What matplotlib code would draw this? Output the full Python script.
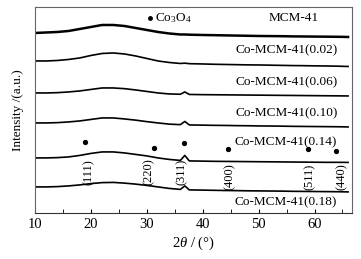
import matplotlib
matplotlib.use("Agg")
import matplotlib.pyplot as plt
from matplotlib.ticker import MultipleLocator

plt.rcParams['font.family'] = ['Liberation Serif', 'DejaVu Serif']
plt.rcParams['mathtext.fontset'] = 'custom'
plt.rcParams['mathtext.rm'] = 'Liberation Serif'
plt.rcParams['mathtext.it'] = 'Liberation Serif:italic'

# 2theta sample points
two_theta = [10, 12, 14, 16, 18, 20, 22, 24, 26, 28, 30, 32, 34, 36, 36.8, 37.6,
             40, 42, 44, 46, 48, 50, 52, 54, 56, 58, 60, 62, 64, 66]

# intensities (offset, arbitrary units) for each sample
mcm41 = [180, 180.5, 181, 182, 184, 186, 188, 188, 187, 185, 183, 181, 179.5, 178.5, 178.5, 178.3,
         178, 177.8, 177.6, 177.4, 177.2, 177, 176.9, 176.8, 176.6, 176.5, 176.4, 176.3, 176.2, 176]
co_002 = [152, 152, 152.5, 153.5, 155, 157.5, 159.5, 160, 159, 157, 154.5, 152, 150.5, 149.5, 149.8, 149.3,
          149, 148.7, 148.5, 148.3, 148.1, 148, 147.8, 147.6, 147.4, 147.3, 147.1, 147, 146.8, 146.5]
co_006 = [120, 120, 120.3, 121, 122, 123.5, 125, 125, 124.3, 123, 121.5, 120, 119, 118.7, 121, 118.5,
          118.3, 118.2, 118.1, 118, 117.9, 117.8, 117.7, 117.6, 117.5, 117.4, 117.3, 117.2, 117.1, 117]
co_010 = [90, 90, 90.3, 91, 92, 93.5, 95, 95, 94, 92.8, 91.3, 90, 88.8, 88.3, 91.5, 88,
          87.8, 87.6, 87.5, 87.3, 87.2, 87, 86.9, 86.8, 86.6, 86.5, 86.4, 86.3, 86.2, 86]
co_014 = [55, 55, 55.3, 56, 57.5, 59.5, 61, 61, 60, 58.5, 57, 55, 53.5, 52.5, 57.5, 52,
          51.8, 51.6, 51.5, 51.4, 51.3, 51.2, 51.1, 51, 50.9, 50.8, 50.7, 50.6, 50.6, 50.5]
co_018 = [26, 26, 26.3, 27, 28, 29.3, 30.3, 30.5, 29.8, 28.8, 27.5, 26, 24.5, 23.5, 27, 23,
          22.8, 22.6, 22.4, 22.3, 22.1, 22, 21.9, 21.8, 21.6, 21.5, 21.4, 21.3, 21.2, 21]

series = [mcm41, co_002, co_006, co_010, co_014, co_018]
names = ['MCM-41', 'Co-MCM-41(0.02)', 'Co-MCM-41(0.06)', 'Co-MCM-41(0.10)',
         'Co-MCM-41(0.14)', 'Co-MCM-41(0.18)']
name_x = [56.2, 55, 55, 55, 54.8, 54.8]
name_y = [195, 163, 131, 100, 71, 11]

# Co3O4 reflections
hkl = ['(111)', '(220)', '(311)', '(400)', '(511)', '(440)']
hkl_pos = [19.6, 30.4, 36.3, 44.8, 59.1, 64.9]
hkl_y = [41, 41, 41, 36, 36, 36]
dot_x = [18.9, 31.25, 36.6, 44.5, 58.9, 63.9]
dot_y = [71, 65, 70, 64, 64, 62]

fig = plt.figure(figsize=(3.61, 2.59), dpi=100)
ax = fig.add_axes([0.097, 0.178, 0.878, 0.795])

for i, s in enumerate(series):
    lw = 1.8 if i == 0 else 1.2
    ax.plot(two_theta, s, color='black', linewidth=lw)

for n, tx, ty in zip(names, name_x, name_y):
    ax.text(tx, ty, n, fontsize=9.5, ha='center', va='center')

ax.plot(dot_x, dot_y, 'o', color='black', markersize=2.8)
for lab, px, py in zip(hkl, hkl_pos, hkl_y):
    ax.text(px, py, lab, fontsize=9, rotation=90, ha='center', va='center')

# legend marker for Co3O4
ax.plot([30.5], [195], 'o', color='black', markersize=2.5)
ax.text(31.4, 195, r'Co$_3$O$_4$', fontsize=9.5, ha='left', va='center')

ax.set_xlim(10, 66.7)
ax.set_ylim(0, 206)
ax.xaxis.set_major_locator(MultipleLocator(10))
ax.xaxis.set_minor_locator(MultipleLocator(5))
ax.tick_params(axis='x', which='both', direction='in', length=3, labelsize=10.5, pad=4)
ax.set_yticks([])
for sp in ax.spines.values():
    sp.set_color('#666666')
    sp.set_linewidth(0.8)
ax.spines['bottom'].set_color('#333333')

ax.set_xlabel(r'2$\theta$ / (°)', fontsize=10.5, labelpad=2)
ax.set_ylabel('Intensity /(a.u.)', fontsize=9.5, labelpad=8)

fig.savefig('out.png', dpi=100)
